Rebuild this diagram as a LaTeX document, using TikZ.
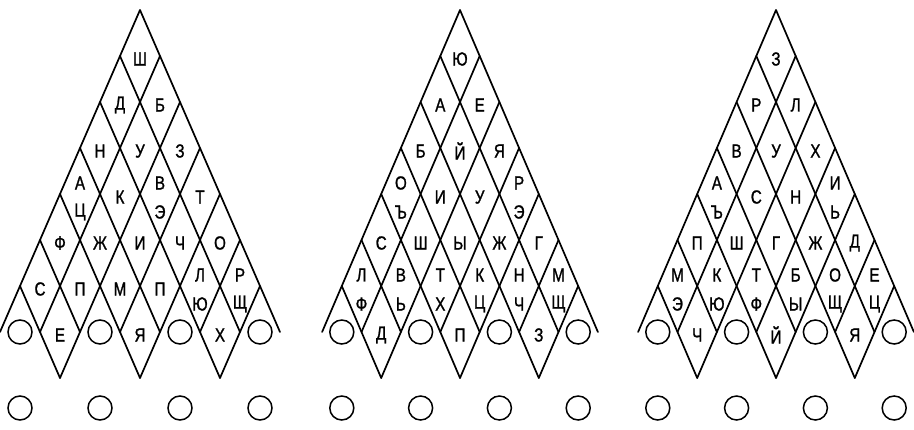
\documentclass[tikz,border=0pt]{standalone}
\usepackage{fontspec}
\setmainfont{Liberation Sans}[FakeStretch=0.8,FakeBold=1.2]
\tikzset{
  gridline/.style={line width=1.7pt, line cap=round, line join=round},
  ring/.style={draw, circle, line width=1.5pt, minimum size=24pt, inner sep=0pt},
  lett/.style={font=\fontsize{19}{19}\selectfont, inner sep=0pt, anchor=center},
}
% #1 name, #2 centre x, #3 half width
\newcommand\mkpts[3]{%
  \foreach \i in {0,...,8}{%
    \foreach \j in {0,...,8}{%
      \coordinate (#1-\i-\j) at ({#2+(\j-\i)*#3},{10+(\i+\j)*46});
    }%
  }%
}
\newcommand\mklines[1]{%
  \draw[gridline] (#1-7-0) -- (#1-0-0) -- (#1-0-7);
  \draw[gridline] (#1-1-0) -- (#1-1-6);
  \draw[gridline] (#1-0-1) -- (#1-6-1);
  \draw[gridline] (#1-2-0) -- (#1-2-6);
  \draw[gridline] (#1-0-2) -- (#1-6-2);
  \draw[gridline] (#1-3-0) -- (#1-3-4);
  \draw[gridline] (#1-0-3) -- (#1-4-3);
  \draw[gridline] (#1-4-0) -- (#1-4-4);
  \draw[gridline] (#1-0-4) -- (#1-4-4);
  \draw[gridline] (#1-5-0) -- (#1-5-2);
  \draw[gridline] (#1-0-5) -- (#1-2-5);
  \draw[gridline] (#1-6-0) -- (#1-6-2);
  \draw[gridline] (#1-0-6) -- (#1-2-6);
}
% single letter: #1 name, #2 cx, #3 w, #4 row, #5 pos, #6 text
\newcommand\one[6]{%
  \node[lett] (#1-c#4-#5) at ({#2+(2*#5-#4)*#3},{10+(#4+1)*46+3}) {#6};
}
% two letters stacked
\newcommand\two[7]{%
  \node[lett] (#1-c#4-#5a) at ({#2+(2*#5-#4)*#3},{10+(#4+1)*46+3-14}) {#6};
  \node[lett] (#1-c#4-#5b) at ({#2+(2*#5-#4)*#3},{10+(#4+1)*46+3+15}) {#7};
}
% circles in row 6 and below
\newcommand\rings[3]{%
  \foreach \p in {0,2,4,6}{%
    \node[ring] (#1-o\p) at ({#2+(2*\p-6)*#3},{10+7*46}) {};
    \node[ring] (#1-b\p) at ({#2+(2*\p-6)*#3},408) {};
  }%
}
\begin{document}
\begin{tikzpicture}[x=1pt,y=-1pt]
\useasboundingbox (0,0) rectangle (914,429);

% ---------- triangle 1 ----------
\mkpts{A}{140}{20}
\mklines{A}
\rings{A}{140}{20}
\one{A}{140}{20}{0}{0}{Ш}
\one{A}{140}{20}{1}{0}{Д}
\one{A}{140}{20}{1}{1}{Б}
\one{A}{140}{20}{2}{0}{Н}
\one{A}{140}{20}{2}{1}{У}
\one{A}{140}{20}{2}{2}{З}
\two{A}{140}{20}{3}{0}{А}{Ц}
\one{A}{140}{20}{3}{1}{К}
\two{A}{140}{20}{3}{2}{В}{Э}
\one{A}{140}{20}{3}{3}{Т}
\one{A}{140}{20}{4}{0}{Ф}
\one{A}{140}{20}{4}{1}{Ж}
\one{A}{140}{20}{4}{2}{И}
\one{A}{140}{20}{4}{3}{Ч}
\one{A}{140}{20}{4}{4}{О}
\one{A}{140}{20}{5}{0}{С}
\one{A}{140}{20}{5}{1}{П}
\one{A}{140}{20}{5}{2}{М}
\one{A}{140}{20}{5}{3}{П}
\two{A}{140}{20}{5}{4}{Л}{Ю}
\two{A}{140}{20}{5}{5}{Р}{Щ}
\one{A}{140}{20}{6}{1}{Е}
\one{A}{140}{20}{6}{3}{Я}
\one{A}{140}{20}{6}{5}{Х}

% ---------- triangle 2 ----------
\mkpts{B}{460}{19.7}
\mklines{B}
\rings{B}{460}{19.7}
\one{B}{460}{19.7}{0}{0}{Ю}
\one{B}{460}{19.7}{1}{0}{А}
\one{B}{460}{19.7}{1}{1}{Е}
\one{B}{460}{19.7}{2}{0}{Б}
\one{B}{460}{19.7}{2}{1}{Й}
\one{B}{460}{19.7}{2}{2}{Я}
\two{B}{460}{19.7}{3}{0}{О}{Ъ}
\one{B}{460}{19.7}{3}{1}{И}
\one{B}{460}{19.7}{3}{2}{У}
\two{B}{460}{19.7}{3}{3}{Р}{Э}
\one{B}{460}{19.7}{4}{0}{С}
\one{B}{460}{19.7}{4}{1}{Ш}
\one{B}{460}{19.7}{4}{2}{Ы}
\one{B}{460}{19.7}{4}{3}{Ж}
\one{B}{460}{19.7}{4}{4}{Г}
\two{B}{460}{19.7}{5}{0}{Л}{Ф}
\two{B}{460}{19.7}{5}{1}{В}{Ь}
\two{B}{460}{19.7}{5}{2}{Т}{Х}
\two{B}{460}{19.7}{5}{3}{К}{Ц}
\two{B}{460}{19.7}{5}{4}{Н}{Ч}
\two{B}{460}{19.7}{5}{5}{М}{Щ}
\one{B}{460}{19.7}{6}{1}{Д}
\one{B}{460}{19.7}{6}{3}{П}
\one{B}{460}{19.7}{6}{5}{З}

% ---------- triangle 3 ----------
\mkpts{C}{776}{19.7}
\mklines{C}
\rings{C}{776}{19.7}
\one{C}{776}{19.7}{0}{0}{З}
\one{C}{776}{19.7}{1}{0}{Р}
\one{C}{776}{19.7}{1}{1}{Л}
\one{C}{776}{19.7}{2}{0}{В}
\one{C}{776}{19.7}{2}{1}{У}
\one{C}{776}{19.7}{2}{2}{Х}
\two{C}{776}{19.7}{3}{0}{А}{Ъ}
\one{C}{776}{19.7}{3}{1}{С}
\one{C}{776}{19.7}{3}{2}{Н}
\two{C}{776}{19.7}{3}{3}{И}{Ь}
\one{C}{776}{19.7}{4}{0}{П}
\one{C}{776}{19.7}{4}{1}{Ш}
\one{C}{776}{19.7}{4}{2}{Г}
\one{C}{776}{19.7}{4}{3}{Ж}
\one{C}{776}{19.7}{4}{4}{Д}
\two{C}{776}{19.7}{5}{0}{М}{Э}
\two{C}{776}{19.7}{5}{1}{К}{Ю}
\two{C}{776}{19.7}{5}{2}{Т}{Ф}
\two{C}{776}{19.7}{5}{3}{Б}{Ы}
\two{C}{776}{19.7}{5}{4}{О}{Щ}
\two{C}{776}{19.7}{5}{5}{Е}{Ц}
\one{C}{776}{19.7}{6}{1}{Ч}
\one{C}{776}{19.7}{6}{3}{Й}
\one{C}{776}{19.7}{6}{5}{Я}
\end{tikzpicture}
\end{document}
